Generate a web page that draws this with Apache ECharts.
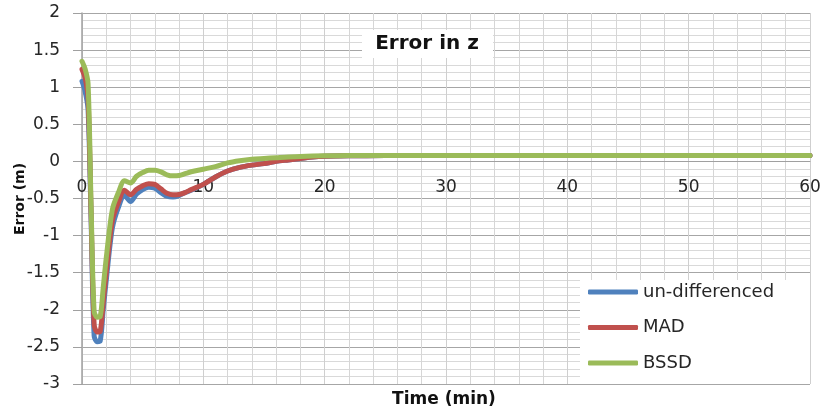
<!DOCTYPE html>
<html>
<head>
<meta charset="utf-8">
<script src="https://cdn.jsdelivr.net/npm/echarts@6/dist/echarts.min.js"></script>
<style>html,body{margin:0;padding:0;background:#fff}#c{width:825px;height:412px}</style>
</head>
<body>
<div id="c"></div>
<script>
const titleText = 'Error in z';
const xName = 'Time (min)';
const yName = 'Error (m)';
const seriesNames = ['un-differenced', 'MAD', 'BSSD'];
const time = [0, 0.25, 0.5, 0.75, 1, 1.25, 1.5, 1.75, 2, 2.5, 3, 3.5, 4, 4.5, 5, 5.5, 6, 6.5, 7, 7.5, 8, 8.5, 9, 10, 11, 12, 13, 14, 15, 16, 17, 18, 19, 20, 22, 25, 30, 40, 50, 60];
const undifferenced = [1.08, 0.95, 0.7, -0.8, -2.35, -2.43, -2.42, -2.0, -1.6, -0.9, -0.62, -0.46, -0.54, -0.44, -0.38, -0.35, -0.36, -0.42, -0.47, -0.48, -0.46, -0.42, -0.39, -0.31, -0.21, -0.13, -0.08, -0.05, -0.03, 0.0, 0.02, 0.04, 0.06, 0.07, 0.076, 0.078, 0.078, 0.078, 0.078, 0.078];
const mad = [1.24, 1.13, 0.85, -0.7, -2.2, -2.3, -2.29, -1.9, -1.5, -0.8, -0.55, -0.39, -0.45, -0.375, -0.33, -0.3, -0.31, -0.37, -0.43, -0.45, -0.445, -0.42, -0.38, -0.31, -0.21, -0.13, -0.08, -0.05, -0.03, 0.0, 0.02, 0.04, 0.06, 0.07, 0.076, 0.078, 0.078, 0.078, 0.078, 0.078];
const bssd = [1.35, 1.25, 1.05, -0.6, -2.02, -2.1, -2.09, -1.7, -1.3, -0.65, -0.42, -0.26, -0.29, -0.2, -0.15, -0.12, -0.12, -0.14, -0.18, -0.195, -0.19, -0.165, -0.14, -0.105, -0.07, -0.02, 0.01, 0.03, 0.04, 0.05, 0.06, 0.065, 0.072, 0.076, 0.078, 0.078, 0.078, 0.078, 0.078, 0.078];
const colors = ['#4f81bd', '#c0504d', '#9bbb59'];

const FONT = 'DejaVu Sans';
const pair = (xs, ys) => xs.map((x, i) => [x, ys[i]]);
const values = [undifferenced, mad, bssd];

const chart = echarts.init(document.getElementById('c'), null, {renderer: 'canvas'});
chart.setOption({
  animation: false,
  backgroundColor: '#fff',
  textStyle: {fontFamily: FONT},
  grid: {left: 82, right: 15, top: 13, bottom: 28, containLabel: false, outerBoundsMode: 'none'},
  xAxis: {
    type: 'value', min: 0, max: 60, interval: 10, position: 'bottom', offset: 0,
    axisLine: {show: true, onZero: false, lineStyle: {color: '#a0a0a0', width: 1}},
    axisTick: {show: false},
    axisLabel: {fontSize: 17, color: '#262626', margin: 18, fontFamily: FONT},
    splitLine: {show: true, lineStyle: {color: '#cfcfcf', width: 1}},
    minorTick: {show: false, splitNumber: 5},
    minorSplitLine: {show: true, lineStyle: {color: '#d6d6d6', width: 1}}
  },
  yAxis: {
    type: 'value', min: -3, max: 2, interval: 0.5,
    axisLine: {show: true, onZero: false, lineStyle: {color: '#a0a0a0', width: 1.5}},
    axisTick: {show: true, length: 9, lineStyle: {color: '#a0a0a0'}},
    axisLabel: {fontSize: 17, color: '#262626', margin: 22, fontFamily: FONT},
    splitLine: {show: true, lineStyle: {color: '#a6a6a6', width: 1}},
    minorTick: {show: false, splitNumber: 5},
    minorSplitLine: {show: true, lineStyle: {color: '#d9d9d9', width: 1}}
  },
  legend: {
    orient: 'vertical', left: 588, top: 281, padding: 0,
    itemWidth: 50, itemHeight: 5, itemGap: 13.5, icon: 'roundRect', z: 10,
    textStyle: {fontSize: 18, color: '#262626', fontFamily: FONT, lineHeight: 22},
    data: seriesNames
  },
  graphic: [
    {type: 'rect', z: 5, shape: {x: 580, y: 280, width: 230, height: 104}, style: {fill: '#fff'}},
    {type: 'rect', z: 5, shape: {x: 362, y: 30, width: 131, height: 28}, style: {fill: '#fff'}},
    {type: 'text', z: 6, x: 427, y: 44, style: {text: titleText, font: 'bold 20px "DejaVu Sans"', fill: '#111', align: 'center', verticalAlign: 'middle'}},
    {type: 'text', z: 6, x: 444, y: 400, style: {text: xName, font: 'bold 17px "DejaVu Sans"', fill: '#111', align: 'center', verticalAlign: 'middle'}},
    {type: 'text', z: 6, x: 20, y: 199, rotation: Math.PI / 2, style: {text: yName, font: 'bold 14px "DejaVu Sans"', fill: '#111', align: 'center', verticalAlign: 'middle'}}
  ],
  series: seriesNames.map((n, i) => ({
    name: n, type: 'line', smooth: 0.3, showSymbol: false, symbol: 'none',
    data: pair(time, values[i]),
    lineStyle: {color: colors[i], width: 5, cap: 'round', join: 'round'},
    itemStyle: {color: colors[i]},
    z: 2 + i
  }))
});
// Place the horizontal axis (line + labels) at y = 0, as in the reference
const zeroPx = chart.convertToPixel({yAxisIndex: 0}, 0);
const bottomPx = chart.convertToPixel({yAxisIndex: 0}, -3);
chart.setOption({xAxis: {offset: zeroPx - bottomPx}});
</script>
</body>
</html>
